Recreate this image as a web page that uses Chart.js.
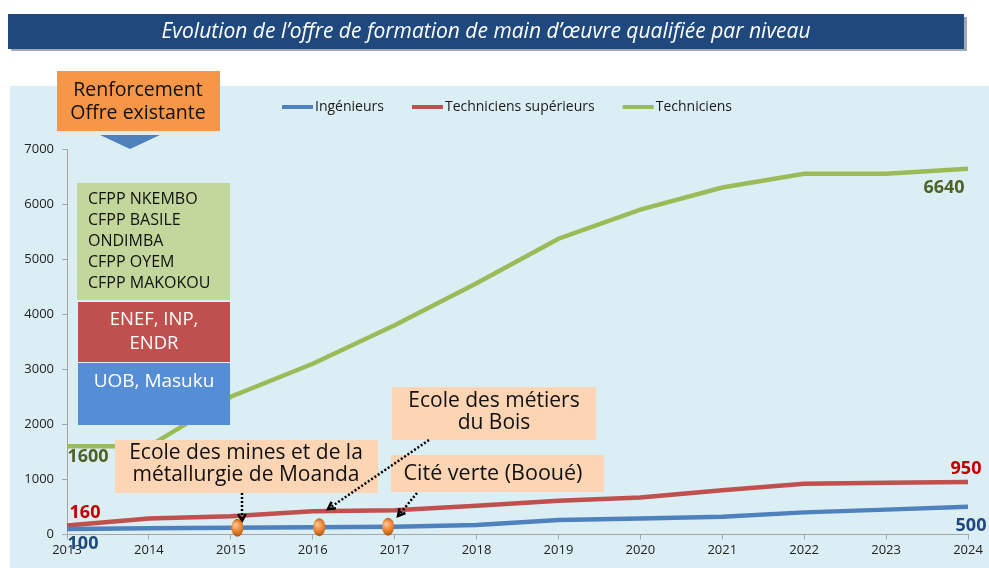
<!DOCTYPE html>
<html>
<head>
<meta charset="utf-8">
<script src="https://cdn.jsdelivr.net/npm/chart.js@4/dist/chart.umd.min.js"></script>
<style>
  html, body { margin: 0; padding: 0; background: #fff; }
  #wrap { width: 989px; height: 568px; }
</style>
</head>
<body>
<div id="wrap"><canvas id="lineChart" width="989" height="568"></canvas></div>
<script>
const years = ["2013", "2014", "2015", "2016", "2017", "2018", "2019", "2020", "2021", "2022", "2023", "2024"];
const ingenieurs = [100, 110, 120, 130, 140, 170, 260, 290, 320, 400, 450, 500];
const techSup = [160, 290, 330, 420, 440, 520, 610, 670, 800, 920, 940, 950];
const techniciens = [1600, 1600, 2500, 3100, 3800, 4560, 5370, 5900, 6300, 6550, 6550, 6640];
const yTicks = [0, 1000, 2000, 3000, 4000, 5000, 6000, 7000];
const seriesNames = ["Ingénieurs", "Techniciens supérieurs", "Techniciens"];
const seriesColors = ["#4f81bd", "#c0504d", "#9bbb59"];
const labelColors = ["#1f497d", "#c00000", "#4f6228"];
// fractional year positions of the orange markers on the blue line
const milestones = [2.08, 3.08, 3.92];

const FONT = "'Open Sans', 'DejaVu Sans', sans-serif";

// label offsets from the first / last point of each series
const firstOffsets = [[16, 15], [18, -13], [21, 11]];
const lastOffsets = [[3, 19], [-2, -13], [-24, 19]];

function rect(ctx, x, y, w, h, fill) {
  ctx.fillStyle = fill;
  ctx.fillRect(x, y, w, h);
}

function lines(ctx, list, x, y, step, font, color, align) {
  ctx.font = font;
  ctx.fillStyle = color;
  ctx.textAlign = align;
  ctx.textBaseline = "middle";
  list.forEach((t, i) => ctx.fillText(t, x, y + i * step));
}

function arrow(ctx, x1, y1, x2, y2) {
  ctx.save();
  ctx.strokeStyle = "#000";
  ctx.lineWidth = 2.5;
  ctx.setLineDash([2, 2]);
  ctx.beginPath();
  ctx.moveTo(x1, y1);
  ctx.lineTo(x2, y2);
  ctx.stroke();
  ctx.setLineDash([]);
  const a = Math.atan2(y2 - y1, x2 - x1);
  const L = 8;
  ctx.beginPath();
  ctx.moveTo(x2 - L * Math.cos(a - 0.5), y2 - L * Math.sin(a - 0.5));
  ctx.lineTo(x2, y2);
  ctx.lineTo(x2 - L * Math.cos(a + 0.5), y2 - L * Math.sin(a + 0.5));
  ctx.stroke();
  ctx.restore();
}

const backdrop = {
  id: "backdrop",
  beforeDraw(chart) {
    const ctx = chart.ctx;
    ctx.save();
    rect(ctx, 0, 0, 989, 568, "#ffffff");
    rect(ctx, 10, 86, 979, 482, "#dbeef4");
    // title bar
    rect(ctx, 11, 17, 956, 34, "#a0a8b8");
    rect(ctx, 8, 14, 956, 35, "#1f497d");
    ctx.font = "italic 21px " + FONT;
    ctx.fillStyle = "#ffffff";
    ctx.textAlign = "center";
    ctx.textBaseline = "middle";
    ctx.fillText("Evolution de l\u2019offre de formation de main d\u2019\u0153uvre qualifi\u00e9e par niveau", 486, 32);
    // legend
    let x = 282;
    ctx.font = "14px " + FONT;
    chart.data.datasets.forEach((ds) => {
      ctx.strokeStyle = ds.borderColor;
      ctx.lineWidth = 4;
      ctx.beginPath();
      ctx.moveTo(x, 107);
      ctx.lineTo(x + 31, 107);
      ctx.stroke();
      ctx.fillStyle = "#1a1a1a";
      ctx.textAlign = "left";
      ctx.fillText(ds.label, x + 33, 107);
      x += 33 + ctx.measureText(ds.label).width + 28;
    });
    ctx.restore();
  },
  afterDatasetsDraw(chart) {
    const ctx = chart.ctx;
    const xs = chart.scales.x;
    const ys = chart.scales.y;
    ctx.save();
    // "Renforcement" callout
    rect(ctx, 57, 71, 163, 60, "#f79646");
    lines(ctx, ["Renforcement", "Offre existante"], 138, 90, 23, "19.5px " + FONT, "#111", "center");
    ctx.fillStyle = "#4f81bd";
    ctx.beginPath();
    ctx.moveTo(100, 135);
    ctx.lineTo(160, 135);
    ctx.lineTo(130, 149);
    ctx.closePath();
    ctx.fill();
    // existing offer boxes
    rect(ctx, 77, 183, 153, 117, "#c3d69b");
    lines(ctx, ["CFPP NKEMBO", "CFPP BASILE", "ONDIMBA", "CFPP OYEM", "CFPP MAKOKOU"], 88, 199, 21, "16px " + FONT, "#111", "left");
    rect(ctx, 78, 302, 152, 60, "#c0504d");
    lines(ctx, ["ENEF, INP,", "ENDR"], 154, 320, 24, "18.5px " + FONT, "#fff", "center");
    rect(ctx, 78, 363, 152, 62, "#558ed5");
    lines(ctx, ["UOB, Masuku"], 154, 382, 24, "19px " + FONT, "#fff", "center");
    // new schools
    rect(ctx, 115, 440, 263, 53, "#fcd5b5");
    lines(ctx, ["Ecole des mines et de la", "m\u00e9tallurgie de Moanda"], 246, 453, 22, "21px " + FONT, "#111", "center");
    rect(ctx, 392, 387, 204, 53, "#fcd5b5");
    lines(ctx, ["Ecole des m\u00e9tiers", "du Bois"], 494, 401, 22, "21px " + FONT, "#111", "center");
    rect(ctx, 391, 455, 213, 37, "#fcd5b5");
    lines(ctx, ["Cit\u00e9 verte (Boou\u00e9)"], 493, 474, 22, "21.5px " + FONT, "#111", "center");
    arrow(ctx, 242, 493, 242, 521);
    arrow(ctx, 429, 440, 328, 509);
    arrow(ctx, 417, 493, 398, 516);
    // orange markers on the Ingénieurs line
    const step = xs.getPixelForValue(1) - xs.getPixelForValue(0);
    milestones.forEach((m) => {
      const i = Math.floor(m);
      const f = m - i;
      const v = ingenieurs[i] + f * (ingenieurs[i + 1] - ingenieurs[i]);
      const px = xs.getPixelForValue(i) + f * step;
      const py = ys.getPixelForValue(v);
      const g = ctx.createRadialGradient(px - 2, py - 3, 1, px, py, 10);
      g.addColorStop(0, "#fbc08a");
      g.addColorStop(0.5, "#e8802e");
      g.addColorStop(1, "#9a4a10");
      ctx.fillStyle = g;
      ctx.beginPath();
      ctx.ellipse(px, py, 6, 9, 0, 0, Math.PI * 2);
      ctx.fill();
    });
    // first / last value labels
    ctx.font = "bold 18px " + FONT;
    ctx.textBaseline = "middle";
    ctx.textAlign = "center";
    chart.data.datasets.forEach((ds, k) => {
      const n = ds.data.length - 1;
      ctx.fillStyle = labelColors[k];
      ctx.fillText(String(ds.data[0]), xs.getPixelForValue(0) + firstOffsets[k][0], ys.getPixelForValue(ds.data[0]) + firstOffsets[k][1]);
      ctx.fillText(String(ds.data[n]), xs.getPixelForValue(n) + lastOffsets[k][0], ys.getPixelForValue(ds.data[n]) + lastOffsets[k][1]);
    });
    ctx.restore();
  }
};

const series = [ingenieurs, techSup, techniciens];

const config = {
  type: "line",
  data: {
    labels: years,
    datasets: series.map((vals, k) => ({
      label: seriesNames[k],
      data: vals,
      fill: false,
      borderColor: seriesColors[k],
      backgroundColor: seriesColors[k],
      borderWidth: 4.5,
      pointRadius: 0,
      tension: 0,
    })),
  },
  options: {
    responsive: false,
    animation: false,
    devicePixelRatio: 1,
    layout: { padding: { top: 149, left: 20, right: 21, bottom: 7 } },
    plugins: {
      legend: { display: false },
      tooltip: { enabled: false },
    },
    scales: {
      x: {
        offset: false,
        grid: { drawOnChartArea: false, drawTicks: true, tickLength: 5, color: "#a6a6a6" },
        border: { color: "#a6a6a6", width: 1 },
        ticks: { color: "#222", font: { family: FONT, size: 13 }, padding: 3, maxRotation: 0, autoSkip: false },
      },
      y: {
        min: 0,
        max: 7000,
        afterBuildTicks: (s) => { s.ticks = yTicks.map((v) => ({ value: v })); },
        afterFit: (s) => { s.width = 47; },
        grid: { drawOnChartArea: false, drawTicks: true, tickLength: 5, color: "#a6a6a6" },
        border: { color: "#a6a6a6", width: 1 },
        ticks: { color: "#222", font: { family: FONT, size: 13 }, padding: 8, callback: (v) => String(v) },
      },
    },
  },
  plugins: [backdrop],
};

const lineChart = new Chart(document.getElementById("lineChart"), config);
</script>
</body>
</html>
